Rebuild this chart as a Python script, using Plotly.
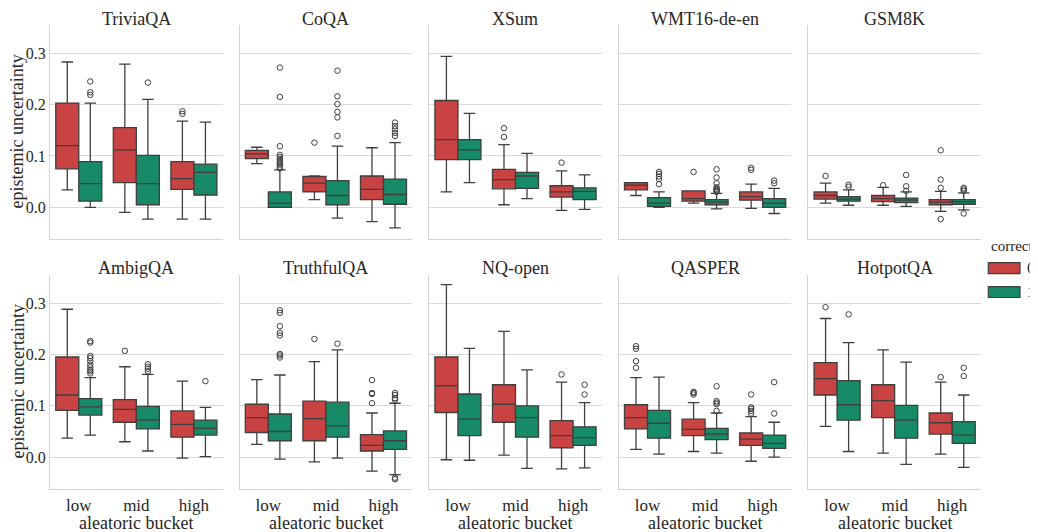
import plotly.graph_objects as go

datasets = ["TriviaQA", "CoQA", "XSum", "WMT16-de-en", "GSM8K",
            "AmbigQA", "TruthfulQA", "NQ-open", "QASPER", "HotpotQA"]
buckets = ["low", "mid", "high"]
correct_levels = ["0", "1"]

# stats per dataset: [bucket][correct] -> (lower whisker, q1, median, q3, upper whisker)
stats = {
    "TriviaQA": [[(0.034, 0.075, 0.120, 0.203, 0.283), (0.000, 0.012, 0.046, 0.089, 0.203)],
                 [(-0.010, 0.048, 0.112, 0.155, 0.279), (-0.023, 0.005, 0.046, 0.101, 0.210)],
                 [(-0.023, 0.035, 0.056, 0.089, 0.168), (-0.023, 0.024, 0.068, 0.084, 0.166)]],
    "CoQA": [[(0.085, 0.095, 0.104, 0.111, 0.117), (0.000, 0.000, 0.008, 0.030, 0.073)],
             [(0.015, 0.030, 0.047, 0.060, 0.061), (-0.021, 0.005, 0.023, 0.052, 0.119)],
             [(-0.028, 0.015, 0.035, 0.061, 0.116), (-0.040, 0.006, 0.025, 0.055, 0.126)]],
    "XSum": [[(0.030, 0.093, 0.132, 0.208, 0.294), (0.048, 0.093, 0.112, 0.132, 0.183)],
             [(0.005, 0.036, 0.054, 0.074, 0.122), (0.017, 0.037, 0.061, 0.068, 0.105)],
             [(-0.006, 0.020, 0.030, 0.042, 0.071), (-0.004, 0.015, 0.031, 0.038, 0.063)]],
    "WMT16-de-en": [[(0.023, 0.034, 0.043, 0.048, 0.048), (0.000, 0.002, 0.008, 0.019, 0.030)],
                    [(0.008, 0.012, 0.017, 0.032, 0.032), (-0.003, 0.005, 0.010, 0.015, 0.027)],
                    [(-0.002, 0.014, 0.021, 0.030, 0.045), (-0.012, 0.000, 0.008, 0.017, 0.037)]],
    "GSM8K": [[(0.008, 0.016, 0.023, 0.030, 0.047), (0.004, 0.012, 0.016, 0.021, 0.034)],
              [(0.004, 0.011, 0.017, 0.023, 0.039), (0.002, 0.009, 0.014, 0.018, 0.030)],
              [(-0.008, 0.005, 0.010, 0.015, 0.031), (-0.005, 0.006, 0.011, 0.015, 0.028)]],
    "AmbigQA": [[(0.037, 0.091, 0.121, 0.195, 0.288), (0.043, 0.082, 0.098, 0.114, 0.155)],
                [(0.030, 0.068, 0.093, 0.112, 0.176), (0.012, 0.055, 0.072, 0.099, 0.161)],
                [(-0.002, 0.039, 0.064, 0.090, 0.148), (0.001, 0.043, 0.056, 0.072, 0.097)]],
    "TruthfulQA": [[(0.025, 0.048, 0.077, 0.103, 0.151), (-0.004, 0.032, 0.050, 0.084, 0.160)],
                   [(-0.009, 0.032, 0.075, 0.109, 0.186), (-0.002, 0.039, 0.061, 0.107, 0.209)],
                   [(-0.027, 0.012, 0.023, 0.044, 0.086), (-0.034, 0.015, 0.032, 0.051, 0.105)]],
    "NQ-open": [[(-0.005, 0.087, 0.139, 0.195, 0.336), (-0.006, 0.042, 0.074, 0.123, 0.212)],
                [(0.004, 0.068, 0.103, 0.141, 0.245), (-0.022, 0.039, 0.077, 0.100, 0.170)],
                [(-0.023, 0.018, 0.042, 0.071, 0.146), (-0.021, 0.023, 0.038, 0.059, 0.106)]],
    "QASPER": [[(0.015, 0.055, 0.077, 0.102, 0.155), (0.006, 0.037, 0.066, 0.091, 0.156)],
               [(0.011, 0.042, 0.054, 0.074, 0.106), (0.008, 0.034, 0.045, 0.056, 0.086)],
               [(-0.008, 0.023, 0.035, 0.047, 0.079), (0.000, 0.017, 0.027, 0.043, 0.068)]],
    "HotpotQA": [[(0.060, 0.121, 0.153, 0.184, 0.270), (0.011, 0.072, 0.102, 0.149, 0.223)],
                 [(0.008, 0.077, 0.110, 0.141, 0.209), (-0.014, 0.037, 0.072, 0.101, 0.185)],
                 [(0.006, 0.045, 0.067, 0.086, 0.146), (-0.020, 0.027, 0.043, 0.069, 0.121)]],
}

# outliers per dataset: [bucket][correct] -> list of values
outliers = {
    "TriviaQA": [[[], [0.245, 0.224, 0.219]], [[], [0.243]], [[0.187, 0.182], []]],
    "CoQA": [[[], [0.272, 0.215, 0.119, 0.102, 0.098, 0.094, 0.090, 0.086, 0.083, 0.079, 0.076]],
             [[0.126], [0.266, 0.216, 0.201, 0.186, 0.175, 0.139]],
             [[], [0.165, 0.158, 0.152, 0.145, 0.139]]],
    "XSum": [[[], []], [[0.154, 0.137], []], [[0.087], []]],
    "WMT16-de-en": [[[], [0.069, 0.065, 0.060, 0.055, 0.045]],
                    [[0.069], [0.074, 0.058, 0.047, 0.039, 0.036, 0.034, 0.032, 0.030]],
                    [[0.077, 0.073], [0.052, 0.047]]],
    "GSM8K": [[[0.061], [0.044, 0.040]], [[0.043], [0.063, 0.041, 0.032]],
              [[0.111, 0.054, 0.038, -0.023], [0.038, 0.035, 0.032, -0.012]]],
    "AmbigQA": [[[], [0.226, 0.223, 0.197, 0.193, 0.187, 0.180, 0.175, 0.170, 0.167, 0.163]],
                [[0.207], [0.181, 0.176, 0.172, 0.167]],
                [[], [0.148]]],
    "TruthfulQA": [[[], [0.286, 0.281, 0.255, 0.242, 0.237, 0.201, 0.198, 0.194]],
                   [[0.230], [0.221]],
                   [[0.150, 0.125, 0.123, 0.105], [0.125, 0.121, 0.115, 0.112, -0.040, -0.043]]],
    "NQ-open": [[[], []], [[], []], [[0.161], [0.141, 0.122]]],
    "QASPER": [[[0.216, 0.211, 0.187, 0.174], []],
               [[0.127, 0.125, 0.122], [0.138, 0.109, 0.106, 0.103, 0.090]],
               [[0.122, 0.097, 0.094, 0.090, 0.085], [0.146, 0.085]]],
    "HotpotQA": [[[0.292], [0.278]], [[], []], [[0.156], [0.174, 0.158]]],
}

colors = ["#c94343", "#178a68"]
edge = "#3f3f3f"
FONT = "Liberation Serif"
TXT = "#262626"

OFF = 8  # page body margin in the browser
W, H = 1030, 524
# plot area in screen pixels: x 50..981, y 25..489.3
ml, mt = 50 - OFF, 25 - OFF
pw = 931.0
ph = 464.3
mr = W - ml - pw
mb = H - mt - ph
col_w = 172.7
col_step = (pw - col_w) / 4
row_h = 214.3


def px_x(px):
    return (px - OFF - ml) / pw


def px_y(py):
    return (mt + ph - (py - OFF)) / ph


fig = go.Figure()
for i, ds in enumerate(datasets):
    r, c = divmod(i, 5)
    ax = "" if i == 0 else str(i + 1)
    x0 = max(0.0, c * col_step / pw)
    x1 = min(1.0, (c * col_step + col_w) / pw)
    if r == 0:
        y0, y1 = (ph - row_h) / ph, 1.0
        top_px = 25
    else:
        y0, y1 = 0.0, row_h / ph
        top_px = 275
    for b, bucket in enumerate(buckets):
        for k in range(2):
            lo, q1, med, q3, hi = stats[ds][b][k]
            pos = b + (-0.2 if k == 0 else 0.2)
            fig.add_trace(go.Box(
                x=[pos], q1=[q1], median=[med], q3=[q3], lowerfence=[lo], upperfence=[hi],
                width=0.4, whiskerwidth=0.5, fillcolor=colors[k],
                line=dict(color=edge, width=1.3), boxpoints=False,
                xaxis="x" + ax, yaxis="y" + ax, showlegend=False, hoverinfo="skip"))
            pts = outliers[ds][b][k]
            if pts:
                fig.add_trace(go.Scatter(
                    x=[pos] * len(pts), y=pts, mode="markers",
                    marker=dict(symbol="circle-open", size=5.5, color=edge, line=dict(width=1)),
                    xaxis="x" + ax, yaxis="y" + ax, showlegend=False, hoverinfo="skip"))
    xa = dict(domain=[x0, x1], range=[-0.5, 2.5], anchor="y" + ax, automargin=False,
              tickvals=[0, 1, 2], ticktext=buckets,
              showticklabels=(r == 1), showgrid=False, zeroline=False,
              showline=True, linecolor="#d4d4d4", linewidth=1.3, ticks="",
              tickfont=dict(family=FONT, size=17, color=TXT))
    ya = dict(domain=[y0, y1], range=[-0.062, 0.355], anchor="x" + ax, automargin=False,
              tickvals=[0.0, 0.1, 0.2, 0.3], showticklabels=(c == 0),
              tickformat=".1f", showgrid=True, gridcolor="#d9d9d9", gridwidth=1.2,
              zeroline=False, showline=True, linecolor="#d4d4d4", linewidth=1.3, ticks="",
              tickfont=dict(family=FONT, size=16, color=TXT))
    fig.update_layout({"xaxis" + ax: xa, "yaxis" + ax: ya})
    fig.add_annotation(text=ds, x=(x0 + x1) / 2, y=px_y(top_px - 6.5), xref="paper", yref="paper",
                       xanchor="center", yanchor="middle", showarrow=False,
                       font=dict(family=FONT, size=18, color=TXT))
    if r == 1:
        fig.add_annotation(text="aleatoric bucket", x=(x0 + x1) / 2, y=px_y(523.5),
                           xref="paper", yref="paper", xanchor="center", yanchor="middle",
                           showarrow=False, font=dict(family=FONT, size=18, color=TXT))
    if c == 0:
        fig.add_annotation(text="epistemic uncertainty", x=px_x(17.5), y=(y0 + y1) / 2,
                           xref="paper", yref="paper", xanchor="center", yanchor="middle",
                           textangle=-90, showarrow=False,
                           font=dict(family=FONT, size=18, color=TXT))

# legend drawn manually
fig.add_annotation(text="correct", x=px_x(989), y=px_y(246), xref="paper", yref="paper",
                   xanchor="left", yanchor="middle", showarrow=False,
                   font=dict(family=FONT, size=15, color=TXT))
for k, lvl in enumerate(correct_levels):
    top = 262.7 + k * 24
    fig.add_shape(type="rect", xref="paper", yref="paper",
                  x0=px_x(988.3), x1=px_x(1020), y0=px_y(top + 11), y1=px_y(top),
                  fillcolor=colors[k], line=dict(color=edge, width=1.2))
    fig.add_annotation(text=lvl, x=px_x(1025), y=px_y(top + 5.5), xref="paper", yref="paper",
                       xanchor="left", yanchor="middle", showarrow=False,
                       font=dict(family=FONT, size=15, color=TXT))

fig.update_layout(width=W, height=H, margin=dict(l=ml, r=mr, t=mt, b=mb, autoexpand=False),
                  paper_bgcolor="white", plot_bgcolor="white", showlegend=False,
                  font=dict(family=FONT, color=TXT))

fig.write_html("out.html")
